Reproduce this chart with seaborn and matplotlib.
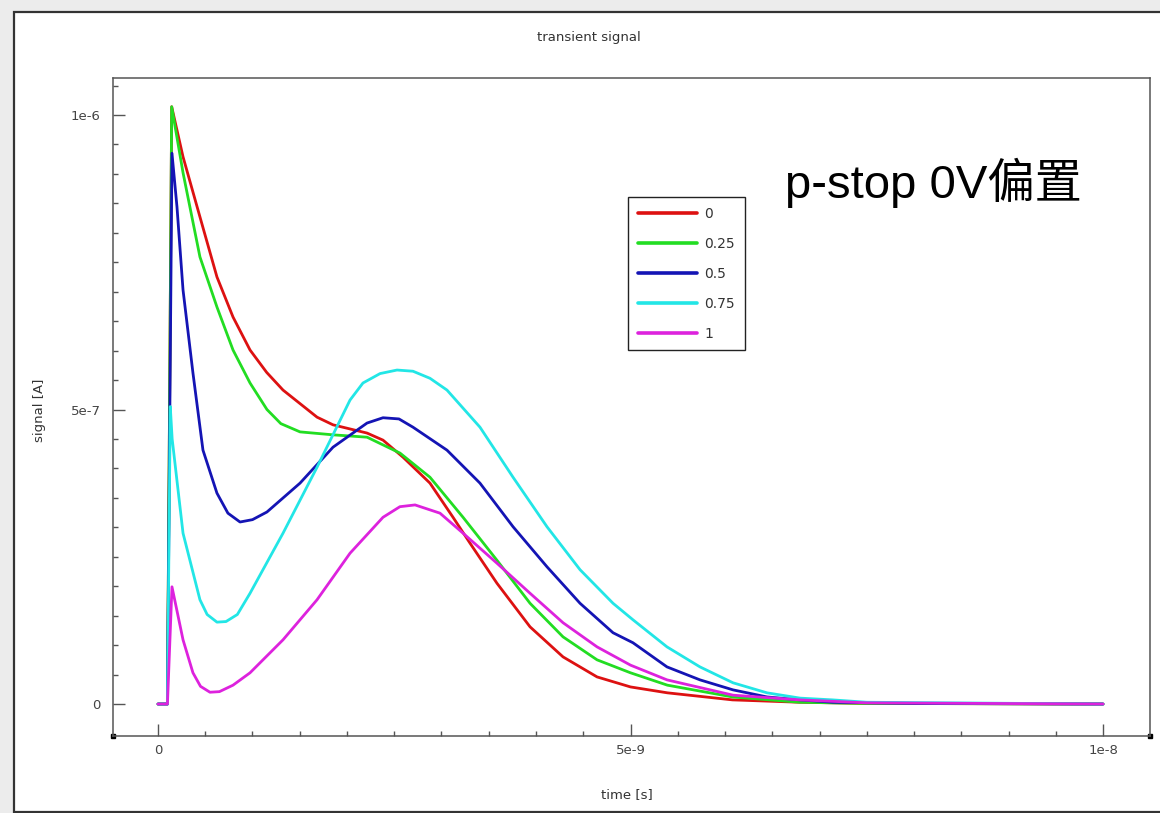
import numpy as np
import pandas as pd
import matplotlib
matplotlib.use("Agg")
import matplotlib.pyplot as plt
from matplotlib.patches import Rectangle
from matplotlib.ticker import MultipleLocator, FixedLocator
import seaborn as sns

# ---- data (time in ns, signal in uA) ----
labels = ["0", "0.25", "0.5", "0.75", "1"]
colors = ["#dd1111", "#22dd22", "#1414b4", "#22e6e6", "#dd22dd"]

t_0 = [0, 0.1, 0.145, 0.265, 0.444, 0.624, 0.794, 0.974, 1.15, 1.323, 1.683, 1.852, 2.212, 2.381,
       2.593, 2.878, 3.122, 3.302, 3.587, 3.937, 4.286, 4.646, 5.0, 5.39, 6.08, 6.79, 7.5, 10.0]
s_0 = [0, 0, 1.014, 0.929, 0.827, 0.725, 0.657, 0.601, 0.563, 0.533, 0.487, 0.474, 0.460, 0.448,
       0.419, 0.375, 0.317, 0.273, 0.205, 0.131, 0.080, 0.046, 0.029, 0.019, 0.007, 0.003, 0.001, 0.0]

t_025 = [0, 0.1, 0.145, 0.265, 0.444, 0.624, 0.794, 0.974, 1.153, 1.3, 1.503, 1.852, 2.212, 2.561,
         2.878, 3.228, 3.587, 3.937, 4.286, 4.646, 5.0, 5.39, 6.08, 6.79, 7.5, 10.0]
s_025 = [0, 0, 1.014, 0.902, 0.759, 0.674, 0.601, 0.545, 0.500, 0.476, 0.462, 0.457, 0.453, 0.426,
         0.385, 0.317, 0.244, 0.171, 0.114, 0.075, 0.053, 0.032, 0.012, 0.003, 0.001, 0.0]

t_05 = [0, 0.1, 0.148, 0.201, 0.265, 0.370, 0.476, 0.624, 0.74, 0.868, 1.0, 1.153, 1.503, 1.852,
        2.212, 2.381, 2.55, 2.698, 3.058, 3.407, 3.757, 4.116, 4.466, 4.815, 5.026, 5.386, 5.735,
        6.085, 6.444, 6.794, 7.14, 8.0, 10.0]
s_05 = [0, 0, 0.935, 0.844, 0.703, 0.562, 0.431, 0.358, 0.324, 0.309, 0.313, 0.326, 0.375, 0.436,
        0.477, 0.486, 0.484, 0.470, 0.431, 0.375, 0.301, 0.233, 0.171, 0.121, 0.104, 0.063, 0.041,
        0.024, 0.012, 0.007, 0.003, 0.001, 0.0]

t_075 = [0, 0.1, 0.13, 0.15, 0.265, 0.444, 0.52, 0.624, 0.72, 0.84, 0.974, 1.323, 1.683, 2.032,
         2.169, 2.35, 2.529, 2.698, 2.878, 3.058, 3.407, 3.757, 4.116, 4.466, 4.815, 5.026, 5.386,
         5.735, 6.085, 6.444, 6.794, 7.14, 7.5, 10.0]
s_075 = [0, 0, 0.505, 0.45, 0.290, 0.177, 0.152, 0.139, 0.140, 0.152, 0.188, 0.290, 0.402, 0.516,
         0.545, 0.561, 0.567, 0.565, 0.553, 0.533, 0.470, 0.385, 0.301, 0.228, 0.171, 0.143, 0.097,
         0.063, 0.036, 0.019, 0.010, 0.007, 0.003, 0.0]

t_1 = [0, 0.1, 0.148, 0.265, 0.370, 0.45, 0.550, 0.65, 0.794, 0.974, 1.323, 1.683, 2.032, 2.381,
       2.56, 2.72, 2.984, 3.228, 3.587, 3.937, 4.286, 4.646, 5.0, 5.386, 6.085, 6.794, 7.5, 10.0]
s_1 = [0, 0, 0.199, 0.109, 0.053, 0.030, 0.020, 0.021, 0.032, 0.053, 0.109, 0.177, 0.256, 0.317,
       0.335, 0.338, 0.324, 0.290, 0.239, 0.188, 0.138, 0.097, 0.066, 0.041, 0.015, 0.007, 0.002, 0.0]

x_ticks = [0, 5e-9, 1e-8]
x_ticklabels = ["0", "5e-9", "1e-8"]
y_ticks = [0, 5e-7, 1e-6]
y_ticklabels = ["0", "5e-7", "1e-6"]

series_t = [t_0, t_025, t_05, t_075, t_1]
series_s = [s_0, s_025, s_05, s_075, s_1]
frames = []
for lab, tt, ss in zip(labels, series_t, series_s):
    frames.append(pd.DataFrame({"time": np.array(tt) * 1e-9,
                                "signal": np.array(ss) * 1e-6,
                                "bias": lab}))
df = pd.concat(frames, ignore_index=True)

# ---- style ----
sns.set_theme(style="white")
plt.rcParams["font.family"] = ["DejaVu Sans"]

W, H = 1160, 813
fig = plt.figure(figsize=(W / 100, H / 100), dpi=100, facecolor="#ececec")
panel = Rectangle((14 / W, 1 / H), 1.2, (812 - 12) / H, transform=fig.transFigure,
                  facecolor="white", edgecolor="#333333", lw=1.6, zorder=-5)
fig.patches.append(panel)

ax = fig.add_axes([113 / W, 1 - 736 / H, (1150 - 113) / W, (736 - 78) / H])
ax.set_zorder(1)
ax.set_facecolor("white")

sns.lineplot(data=df, x="time", y="signal", hue="bias", hue_order=labels,
             palette=colors, estimator=None, sort=False, lw=2.0, ax=ax)
for ln in ax.get_lines():
    ln.set_solid_joinstyle("round")

ax.set_xlim(-0.476e-9, 10.497e-9)
ax.set_ylim(-0.0543e-6, 1.0628e-6)
ax.set_xticks(x_ticks)
ax.set_xticklabels(x_ticklabels)
ax.set_yticks(y_ticks)
ax.set_yticklabels(y_ticklabels)
ax.xaxis.set_minor_locator(MultipleLocator(0.5e-9))
ax.yaxis.set_minor_locator(FixedLocator([k * 0.5e-7 for k in range(0, 22)]))
ax.tick_params(which="both", direction="in", color="#555555", labelcolor="#444444",
               labelsize=9.5, top=False, right=False, bottom=True, left=True)
ax.tick_params(which="major", length=8.5, width=1.0, pad=6)
ax.tick_params(which="minor", length=3.5, width=1.0)
ax.tick_params(axis="y", which="major", pad=9)
for sp in ax.spines.values():
    sp.set_color("#555555")
    sp.set_linewidth(1.1)
ax.set_xlabel("")
ax.set_ylabel("")
ax.plot([0, 1], [0, 0], "s", color="black", ms=3.5, transform=ax.transAxes, clip_on=False)

fig.text(589 / W, 1 - 38 / H, "transient signal", ha="center", va="center",
         fontsize=9.5, color="#333333")
fig.text(627 / W, 1 - 795 / H, "time [s]", ha="center", va="center",
         fontsize=9.5, color="#333333")
fig.text(40 / W, 1 - 410 / H, "signal [A]", ha="center", va="center", rotation=90,
         fontsize=9.5, color="#333333")

fig.text(785 / W, 1 - 198 / H, "p-stop 0V偏置", ha="left", va="baseline",
         fontsize=34, color="black", zorder=5,
         family=["Liberation Sans", "Noto Sans CJK SC"])

leg = ax.legend(loc="upper left", bbox_to_anchor=(628 / W, 1 - 197 / H),
                bbox_transform=fig.transFigure, borderaxespad=0, fontsize=10,
                frameon=True, fancybox=False, shadow=False, framealpha=1,
                edgecolor="#222222", handlelength=4.3, handletextpad=0.5,
                labelspacing=1.15, borderpad=0.7)
leg.get_frame().set_linewidth(1.0)
for line in leg.get_lines():
    line.set_linewidth(2.6)
for txt in leg.get_texts():
    txt.set_color("#333333")

fig.savefig("out.png", dpi=100, facecolor=fig.get_facecolor())
